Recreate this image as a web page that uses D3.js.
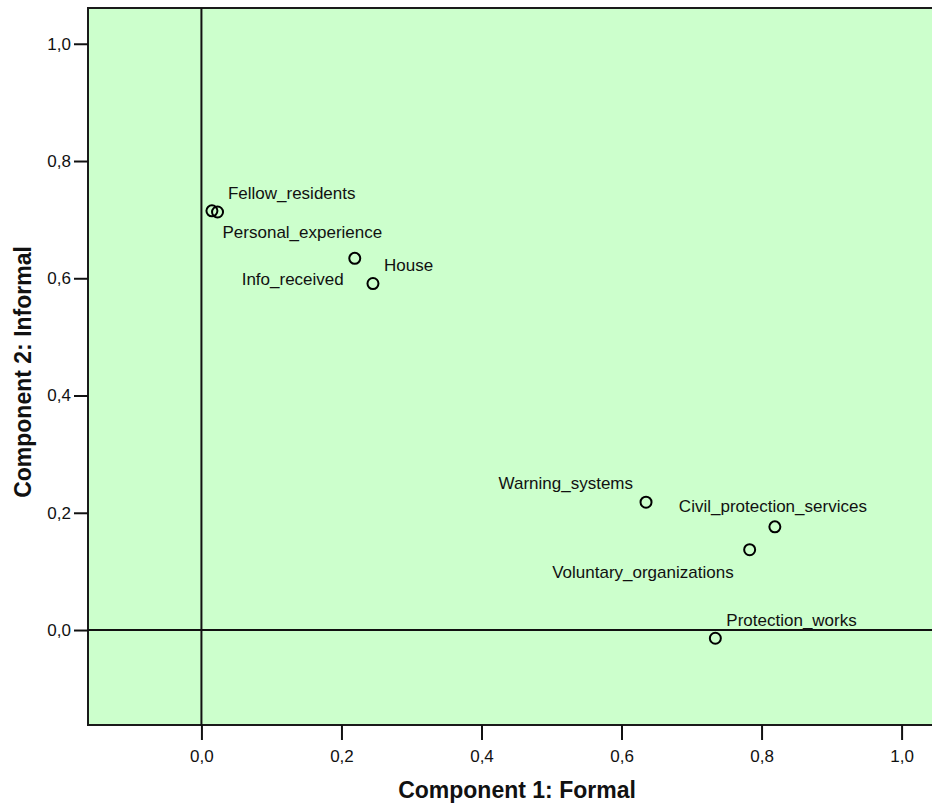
<!DOCTYPE html>
<html>
<head>
<meta charset="utf-8">
<script src="https://cdn.jsdelivr.net/npm/d3@7"></script>
<style>
    body { margin: 0; background: #fff; }
    svg { display: block; }
    text { font-family: "Liberation Sans", Arial, sans-serif; fill: #111; }
</style>
</head>
<body>
<div id="chart"></div>
<script>
const variables = ["Fellow_residents", "Personal_experience", "Info_received", "House",
    "Warning_systems", "Civil_protection_services", "Voluntary_organizations", "Protection_works"];
const formal =   [0.015, 0.023, 0.219, 0.245, 0.635, 0.819, 0.783, 0.734];
const informal = [0.715, 0.713, 0.634, 0.591, 0.218, 0.176, 0.137, -0.014];
const tickValues = [0, 0.2, 0.4, 0.6, 0.8, 1.0];

// where each label sits relative to its point (SPSS places them by hand)
const labelPlace = {
    Fellow_residents:          { dx: 16,  dy: -18, anchor: "start" },
    Personal_experience:       { dx: 5,   dy: 20,  anchor: "start" },
    Info_received:             { dx: -11, dy: 21,  anchor: "end" },
    House:                     { dx: 11,  dy: -18, anchor: "start" },
    Warning_systems:           { dx: -13, dy: -19, anchor: "end" },
    Civil_protection_services: { dx: -96, dy: -21, anchor: "start" },
    Voluntary_organizations:   { dx: -16, dy: 22,  anchor: "end" },
    Protection_works:          { dx: 11,  dy: -18, anchor: "start" }
};

const width = 932, height = 807;
const plot = { left: 88, right: 945, top: 8, bottom: 725 };

const svg = d3.select("#chart").append("svg")
    .attr("width", width)
    .attr("height", height);

const x = d3.scaleLinear().domain([-0.162, 1.062]).range([plot.left, plot.right]);
const y = d3.scaleLinear().domain([-0.162, 1.061]).range([plot.bottom, plot.top]);

const fmt = d => d3.format(".1f")(d).replace(".", ",");

svg.append("rect")
    .attr("x", plot.left)
    .attr("y", plot.top)
    .attr("width", plot.right - plot.left)
    .attr("height", plot.bottom - plot.top)
    .attr("fill", "#ccffcc")
    .attr("stroke", "#1a1a1a")
    .attr("stroke-width", 2);

// reference lines at zero
svg.append("line")
    .attr("x1", x(0)).attr("x2", x(0))
    .attr("y1", plot.top).attr("y2", plot.bottom)
    .attr("stroke", "#111").attr("stroke-width", 2);
svg.append("line")
    .attr("x1", plot.left).attr("x2", plot.right)
    .attr("y1", y(0)).attr("y2", y(0))
    .attr("stroke", "#111").attr("stroke-width", 2);

const xAxis = svg.append("g")
    .attr("transform", `translate(0, ${plot.bottom})`)
    .call(d3.axisBottom(x).tickValues(tickValues).tickFormat(fmt).tickSize(15).tickPadding(10));
const yAxis = svg.append("g")
    .attr("transform", `translate(${plot.left}, 0)`)
    .call(d3.axisLeft(y).tickValues(tickValues).tickFormat(fmt).tickSize(14).tickPadding(3));

for (const axis of [xAxis, yAxis]) {
    axis.select(".domain").remove();
    axis.selectAll(".tick line").attr("stroke", "#111").attr("stroke-width", 2);
    axis.selectAll(".tick text")
        .attr("font-size", 17)
        .attr("font-family", "Liberation Sans, Arial, sans-serif")
        .attr("fill", "#111");
}

const points = variables.map((name, i) => ({ name, fx: formal[i], fy: informal[i] }));

svg.append("g").selectAll("circle")
    .data(points)
    .join("circle")
    .attr("cx", d => x(d.fx))
    .attr("cy", d => y(d.fy))
    .attr("r", 5.5)
    .attr("fill", "none")
    .attr("stroke", "#000")
    .attr("stroke-width", 2);

svg.append("g").selectAll("text")
    .data(points)
    .join("text")
    .attr("x", d => x(d.fx) + labelPlace[d.name].dx)
    .attr("y", d => y(d.fy) + labelPlace[d.name].dy)
    .attr("dy", "0.35em")
    .attr("text-anchor", d => labelPlace[d.name].anchor)
    .attr("font-size", 17)
    .text(d => d.name);

svg.append("text")
    .attr("x", 517)
    .attr("y", 798)
    .attr("text-anchor", "middle")
    .attr("font-size", 23)
    .attr("font-weight", "bold")
    .text("Component 1: Formal");

svg.append("text")
    .attr("transform", "translate(31, 372) rotate(-90)")
    .attr("text-anchor", "middle")
    .attr("font-size", 23)
    .attr("font-weight", "bold")
    .text("Component 2: Informal");
</script>
</body>
</html>
